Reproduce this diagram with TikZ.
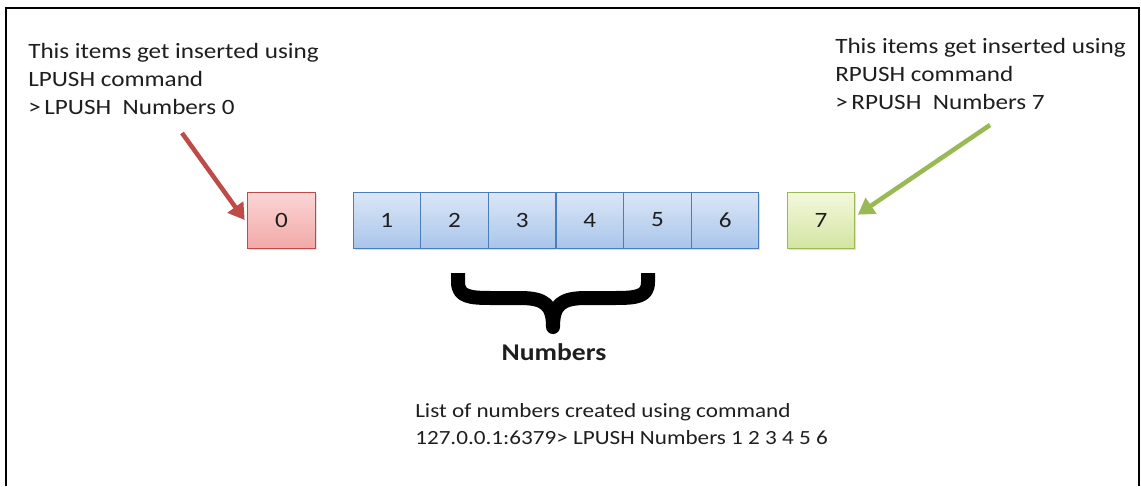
\documentclass[tikz,border=0pt]{standalone}
\usepackage{fontspec}
\setmainfont[FakeStretch=1.15]{Carlito}
\usetikzlibrary{arrows.meta,shadows}
\definecolor{redfill}{HTML}{F2A9A8}
\definecolor{redtop}{HTML}{FAD6D5}
\definecolor{redline}{HTML}{BE4B48}
\definecolor{bluetop}{HTML}{DCE7F6}
\definecolor{bluebot}{HTML}{A9C5EB}
\definecolor{blueline}{HTML}{4A7EBB}
\definecolor{greentop}{HTML}{F4F8DD}
\definecolor{greenbot}{HTML}{D3E5A3}
\definecolor{greenline}{HTML}{98B954}
\definecolor{txt}{HTML}{1E1E1E}
\tikzset{
  txtfont/.style={font=\fontsize{15.1}{20}\selectfont, text=txt},
  topfont/.style={font=\fontsize{16.4}{20}\selectfont, text=txt},
  lbl/.style={txtfont, anchor=base west, inner sep=0pt},
  toplbl/.style={topfont, anchor=base west, inner sep=0pt},
  cell/.style={draw, line width=0.75pt, minimum width=50.5pt, minimum height=42pt, inner sep=0pt,
    font=\fontsize{16.4}{20}\selectfont, text=txt,
    drop shadow={opacity=0.25, shadow xshift=1.2pt, shadow yshift=-1.2pt}},
  redcell/.style={cell, draw=redline, top color=redtop, bottom color=redfill},
  bluecell/.style={cell, draw=blueline, top color=bluetop, bottom color=bluebot},
  greencell/.style={cell, draw=greenline, top color=greentop, bottom color=greenbot},
  pusharrow/.style={line width=3.4pt, -{Triangle[length=12pt,width=14pt]}},
}
\begin{document}
\begin{tikzpicture}[x=0.75pt,y=-0.75pt]
\useasboundingbox (0,0) rectangle (1141,486);
% frame
\draw[line width=1.6pt, black] (6,486) -- (6,8) -- (1139,8) -- (1139,486);
% left text
\node[toplbl] (l1) at (28,58) {This items get inserted using};
\node[toplbl] (l2) at (28,86) {LPUSH command};
\node[toplbl] (l3) at (28,114) {>\,LPUSH\ \ Numbers 0};
% right text
\node[toplbl] (r1) at (835,53) {This items get inserted using};
\node[toplbl] (r2) at (835,81) {RPUSH command};
\node[toplbl] (r3) at (835,109) {>\,RPUSH\ \ Numbers 7};
% cells
\node[redcell] (c0) at (281.5,220) {0};
\node[bluecell] (c1) at (386.8,220) {1};
\node[bluecell] (c2) at (454.5,220) {2};
\node[bluecell] (c3) at (522.2,220) {3};
\node[bluecell] (c4) at (589.8,220) {4};
\node[bluecell] (c5) at (657.5,220) {5};
\node[bluecell] (c6) at (725.2,220) {6};
\node[greencell] (c7) at (821,220) {7};
% arrows
\coordinate (ls) at (182,133);
\coordinate (rs) at (990,125);
\draw[pusharrow, redline] (ls) -- ([xshift=-2pt]c0.west);
\draw[pusharrow, greenline] (rs) -- ([xshift=2pt,yshift=4pt]c7.east);
% brace
\draw[line width=10.5pt, line join=round] (458,273) -- (458,282)
  .. controls (458,297) and (470,298) .. (492,298) -- (520,298)
  .. controls (545,298) and (553,305) .. (553,327)
  .. controls (553,305) and (561,298) .. (586,298) -- (614,298)
  .. controls (636,298) and (648,297) .. (648,282) -- (648,273);
% bottom texts
\node[font=\fontsize{18}{22}\selectfont\bfseries, text=txt, inner sep=0pt] (num) at (554,352) {Numbers};
\node[lbl] (b1) at (415,417) {List of numbers created using command};
\node[lbl] (b2) at (415,444) {127.0.0.1:6379> LPUSH Numbers 1 2 3 4 5 6};
\end{tikzpicture}
\end{document}
